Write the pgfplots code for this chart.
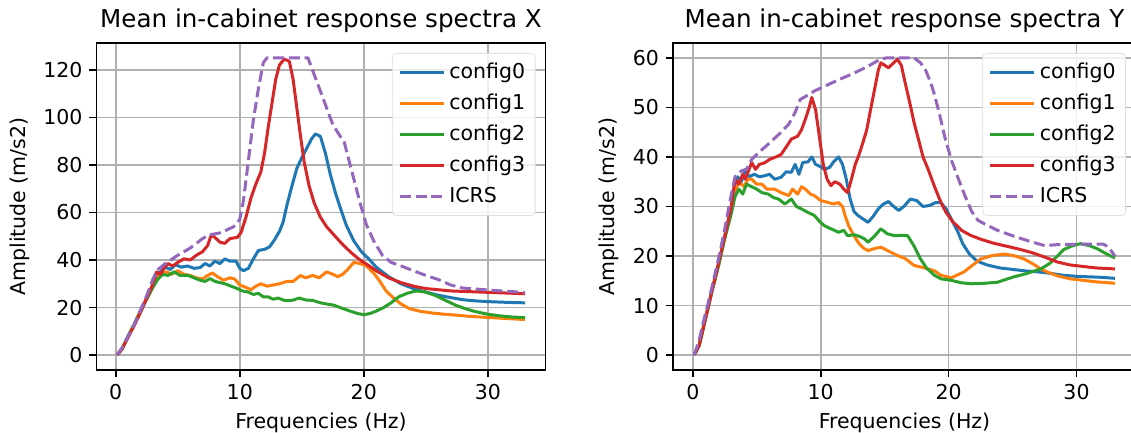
\documentclass[border=0pt]{standalone}
\usepackage{fontspec}
\setmainfont{DejaVu Sans}
\usepackage{pgfplots}
\pgfplotsset{compat=1.18}

\definecolor{c0}{HTML}{1F77B4}
\definecolor{c1}{HTML}{FF7F0E}
\definecolor{c2}{HTML}{2CA02C}
\definecolor{c3}{HTML}{D62728}
\definecolor{c4}{HTML}{9467BD}
\definecolor{gridgray}{HTML}{B0B0B0}

\pgfplotsset{
  specstyle/.style={
    scale only axis,
    height=163.5pt,
    xmin=-1.55, xmax=34.65,
    xtick={0,10,20,30},
    tick align=outside, tick pos=left,
    major tick length=3.5pt,
    tick style={black, line width=0.8pt},
    axis line style={black, line width=0.8pt},
    grid=major,
    major grid style={gridgray, line width=0.8pt},
    /pgf/number format/assume math mode=true,
    ticklabel style={font=\fontsize{10.25}{12}\selectfont},
    label style={font=\fontsize{10.25}{12}\selectfont},
    title style={font=\fontsize{12.3}{14}\selectfont, yshift=-4.5pt},
    xlabel={Frequencies (Hz)},
    ylabel={Amplitude (m/s2)},
    legend cell align=left,
    legend style={at={(1,1)}, anchor=north east, xshift=-5pt, yshift=-5pt,
      draw=gray!25, rounded corners=2pt, fill=white, fill opacity=0.8, text opacity=1,
      font=\fontsize{10.25}{12}\selectfont, row sep=2.2pt, inner sep=3pt},
    legend image code/.code={\draw[#1] (0pt,0pt) -- (22pt,0pt);},
    every axis plot/.append style={line width=1.5pt, line join=round},
  },
  icrs/.style={c4, dash pattern=on 5.5pt off 2.4pt},
}

\begin{document}
\begin{tikzpicture}
\useasboundingbox (0,0) rectangle (565.5pt,216.5pt);

\begin{axis}[specstyle, at={(48.25pt,31.5pt)}, anchor=south west, width=224.5pt,
  ymin=-6.25, ymax=131.25, ytick={0,20,40,60,80,100,120},
  title={Mean in-cabinet response spectra X}]
\addplot[c0] coordinates {
(0.1,0) (0.5,2.5) (1.0,8) (1.5,13) (2.0,18.5) (2.5,24) (3.0,29.5) (3.2,34)
(3.6,35) (4.0,37) (4.4,36) (4.8,38) (5.3,37) (5.8,37.5) (6.3,36.5) (6.8,36.8)
(7.2,38.5) (7.6,37.5) (8.0,39.5) (8.4,38.5) (8.8,40.5) (9.2,39.5) (9.7,39.5)
(10.0,36.5) (10.3,35.5) (10.7,36.5) (11.1,40.5) (11.5,44) (12.0,44.5) (12.4,45.5)
(12.8,48.5) (13.2,52) (13.5,56) (13.8,63) (14.2,71) (14.6,78.5) (15.0,83)
(15.4,87) (15.8,91) (16.1,93) (16.5,92) (16.9,85) (17.3,76) (17.7,68.5)
(18.1,62) (18.6,54.5) (19.2,48) (19.8,43.5) (20.4,40.5) (21.0,37) (22.0,33)
(23.0,30) (24.0,28) (25.0,26.5) (26.0,25.2) (27.0,24.2) (28.0,23.3) (29.0,22.8)
(30.0,22.5) (31.0,22.3) (32.0,22.1) (33.0,22)
};
\addlegendentry{config0}
\addplot[c1] coordinates {
(0.1,0) (0.5,2.5) (1.0,8) (1.5,13) (2.0,18.5) (2.5,24) (3.0,29) (3.3,33)
(3.7,34) (4.1,35) (4.5,34) (5.0,35.5) (5.5,34) (6.0,33.5) (6.5,32.5) (7.0,32)
(7.4,33.5) (7.8,34.5) (8.2,33) (8.7,31.5) (9.2,32.5) (9.6,32) (10.0,29.5)
(10.5,28.5) (10.9,27.5) (11.3,29) (11.7,30) (12.2,29) (12.7,29.5) (13.2,30)
(13.8,31) (14.3,31) (14.9,33.5) (15.3,32.5) (15.9,33.5) (16.4,32.5) (17.0,35)
(17.5,34) (17.9,33) (18.3,34) (18.7,36) (19.2,39) (19.7,38.5) (20.2,37.5)
(20.8,34.5) (21.3,31) (21.8,27) (22.4,24) (23.0,21.5) (23.7,19.5) (24.5,18.5)
(25.5,17.7) (26.5,17.2) (27.5,16.8) (28.5,16.3) (29.5,16) (30.5,15.7)
(31.5,15.4) (32.5,15.1) (33.0,15)
};
\addlegendentry{config1}
\addplot[c2] coordinates {
(0.1,0) (0.5,2.5) (1.0,8) (1.5,13) (2.0,18.5) (2.5,23.5) (3.0,28.5) (3.4,32)
(3.8,34) (4.2,33.5) (4.7,35) (5.2,33.5) (5.8,33.6) (6.3,32.5) (6.8,31.5)
(7.2,31) (7.6,32.2) (8.0,31) (8.4,30.5) (8.8,30) (9.3,29) (9.8,28) (10.2,27)
(10.7,26.5) (11.1,25.5) (11.5,26) (11.9,24.5) (12.3,24.5) (12.7,23.5) (13.1,24)
(13.6,23) (14.2,23) (14.8,24) (15.3,23.2) (15.9,23) (16.5,22) (17.0,21.5)
(17.6,21) (18.2,19.8) (18.9,18.5) (19.5,17.5) (20.0,17) (20.5,17.5) (21.0,18.5)
(21.6,20) (22.2,22) (22.8,24.5) (23.5,26) (24.2,27) (25.0,26.5) (25.8,25)
(26.6,23) (27.4,21) (28.2,19.5) (29.0,18.3) (30.0,17.2) (31.0,16.5) (32.0,16)
(33.0,15.8)
};
\addlegendentry{config2}
\addplot[c3] coordinates {
(0.1,0) (0.5,2.5) (1.0,7.5) (1.5,12.5) (2.0,18) (2.5,24) (3.0,30) (3.3,35)
(3.6,34) (3.9,36.5) (4.2,38.5) (4.6,37.5) (5.0,39) (5.5,40.5) (6.0,40) (6.5,42)
(7.0,43.5) (7.4,46) (7.7,50.5) (8.0,49.5) (8.4,47.5) (8.8,47) (9.2,49) (9.8,49.5)
(10.1,51.5) (10.5,58) (10.9,66) (11.3,72) (11.7,77) (12.0,85) (12.3,96)
(12.6,106) (12.9,116) (13.2,122) (13.6,124.5) (14.0,123.5) (14.3,116) (14.6,104)
(14.9,92) (15.2,81) (15.6,71) (16.0,64) (16.5,58) (17.0,54) (17.6,50.5)
(18.3,46.5) (19.0,43) (19.7,40) (20.3,38) (21.0,35.5) (22.0,32.5) (23.0,30.5)
(24.0,29) (25.0,28) (26.0,27.5) (27.0,27) (28.0,26.8) (29.0,26.6) (30.0,26.4)
(31.0,26.2) (32.0,26) (33.0,25.8)
};
\addlegendentry{config3}
\addplot[icrs] coordinates {
(0.1,0) (0.5,3) (1.0,8) (1.5,13) (2.0,19) (2.5,25) (3.0,32) (3.4,36) (4.0,38.5)
(5.0,42) (6.0,45) (7.0,49) (7.5,50.5) (8.5,51.5) (9.5,54) (10.0,57) (10.3,65)
(10.7,82) (11.1,99) (11.5,112) (11.9,123) (12.2,125) (15.5,125) (16.0,118)
(16.5,111) (17.0,104) (17.5,97) (18.1,92) (18.4,90) (18.8,82) (19.3,72)
(19.7,64) (20.2,55) (20.8,48) (21.5,42) (22.2,39) (23.0,37.5) (24.0,35.5)
(25.0,33.5) (26.0,31.8) (27.0,29.5) (28.0,28.2) (29.0,27.8) (30.0,27.4)
(31.0,27.0) (32.0,26.7) (33.0,26.2)
};
\addlegendentry{ICRS}
\end{axis}

\begin{axis}[specstyle, at={(336.5pt,31.5pt)}, anchor=south west, width=231.5pt,
  ymin=-3, ymax=63, ytick={0,10,20,30,40,50,60},
  title={Mean in-cabinet response spectra Y}]
\addplot[c0] coordinates {
(0.1,0) (0.5,2) (1.0,7.5) (1.5,13) (2.0,18) (2.5,24) (3.0,29.5) (3.2,33)
(3.5,36) (3.8,35) (4.1,37.5) (4.4,36) (4.8,36.5) (5.2,36) (5.6,36.2) (6.0,36.5)
(6.4,35.5) (6.9,35.9) (7.3,37) (7.7,36.9) (8.0,38.5) (8.3,36.5) (8.6,38.9)
(9.0,39) (9.3,40) (9.6,38.5) (10.0,38) (10.3,37.5) (10.7,37.9) (11.0,39)
(11.4,40) (11.7,38.5) (12.0,35.5) (12.3,31.5) (12.6,29) (12.9,28.2) (13.3,27.5)
(13.7,26.8) (14.1,28) (14.5,29.5) (14.9,30.5) (15.3,31) (15.7,30) (16.1,29.2)
(16.5,30) (17.0,31.5) (17.5,31.2) (18.0,30) (18.5,30.2) (19.0,30.8) (19.4,30.8)
(19.8,29.5) (20.3,27) (20.7,25) (21.1,22.5) (21.6,20.5) (22.2,19) (23.0,18.2)
(24.0,17.6) (25.0,17.3) (26.0,17.0) (27.0,16.8) (28.0,16.5) (29.0,16.1)
(30.0,15.9) (31.0,15.8) (32.0,15.7) (33.0,15.5)
};
\addlegendentry{config0}
\addplot[c1] coordinates {
(0.1,0) (0.5,2) (1.0,7.5) (1.5,13) (2.0,18) (2.5,24) (3.0,29.5) (3.3,33)
(3.6,35) (4.0,34) (4.3,35.5) (4.6,35.5) (5.0,34.5) (5.4,34.5) (5.8,33.5)
(6.4,33.5) (6.9,32.8) (7.5,32.2) (7.8,33.5) (8.2,32.5) (8.5,34) (8.8,33.5)
(9.2,32.5) (9.5,32.2) (10.0,31.2) (10.6,30.8) (11.0,30.5) (11.4,30.8) (11.7,30)
(11.9,28.2) (12.2,26) (12.6,24.1) (13.0,22.5) (13.4,21.5) (13.7,21.1) (14.2,21.5)
(14.7,21.8) (15.3,21) (16.0,20.1) (16.6,19.5) (17.3,18.1) (17.8,17.8) (18.4,17.4)
(18.9,17) (19.4,16.1) (19.9,15.8) (20.2,15.6) (20.7,16.2) (21.2,16.8) (21.8,18)
(22.5,19.4) (23.4,20.1) (24.4,20.4) (25.2,20) (25.9,19.4) (26.6,18.4) (27.2,17.4)
(27.7,16.8) (28.5,16) (29.5,15.4) (30.5,15.1) (31.5,14.8) (32.5,14.6) (33.0,14.5)
};
\addlegendentry{config1}
\addplot[c2] coordinates {
(0.1,0) (0.5,2) (1.0,7.5) (1.5,13) (2.0,18) (2.5,23.5) (3.0,28.5) (3.3,32)
(3.6,33.5) (3.9,32.5) (4.2,34.5) (4.6,34) (5.0,33.5) (5.4,32.8) (5.9,32.5)
(6.3,31.8) (6.7,31.5) (7.2,30.5) (7.7,31.5) (8.1,30) (8.5,29.5) (9.0,28.8)
(9.5,28.2) (9.9,27) (10.3,26.1) (10.8,25.5) (11.4,24.8) (11.8,25.2) (12.1,24.1)
(12.6,24.3) (13.0,24) (13.4,23.5) (13.7,22.8) (14.2,24) (14.7,25.5) (15.2,24.5)
(15.8,24.1) (16.3,24.2) (16.8,24.1) (17.3,22) (17.8,19.4) (18.3,17.5) (18.9,16.1)
(19.4,15.4) (20.2,15.1) (21.0,14.6) (21.8,14.4) (22.8,14.5) (23.8,14.7)
(24.5,15.3) (25.1,15.8) (26.0,16.4) (27.2,17.4) (27.9,18.5) (28.5,20) (29.0,21.3)
(29.6,22) (30.3,22.5) (31.0,22.1) (31.6,21.5) (32.3,20.5) (33.0,19.6)
};
\addlegendentry{config2}
\addplot[c3] coordinates {
(0.1,0) (0.5,2) (1.0,7.5) (1.5,13) (2.0,18.5) (2.5,24) (3.0,30) (3.3,35.5)
(3.6,34.5) (3.9,36.5) (4.1,35.5) (4.4,37.5) (4.6,38.9) (4.9,37.5) (5.2,38.5)
(5.6,38.8) (6.0,39.5) (6.5,40) (6.9,40.5) (7.3,42) (7.7,43.6) (8.2,44.2)
(8.5,45.5) (8.8,47.6) (9.1,50) (9.3,52) (9.6,49.5) (9.9,44) (10.2,38.5)
(10.5,35.5) (10.8,34.2) (11.1,35) (11.5,34.5) (11.8,33.5) (12.1,32.8) (12.4,35.5)
(12.7,38.5) (13.0,40.5) (13.3,42.9) (13.6,45.5) (13.9,49.6) (14.2,53.5)
(14.5,57.5) (14.7,59) (15.0,58.5) (15.3,58) (15.7,59) (16.0,59.7) (16.3,58.5)
(16.6,55) (17.0,50.5) (17.3,46.9) (17.7,43) (18.0,40) (18.4,37.5) (18.9,34)
(19.4,30.8) (19.8,28.8) (20.3,27) (21.0,25.2) (21.7,24.2) (22.5,23.4) (23.5,22.6)
(24.5,22) (25.5,21.4) (26.5,20.7) (27.5,19.8) (28.5,18.8) (29.5,18.2) (30.5,17.9)
(31.5,17.6) (33.0,17.4)
};
\addlegendentry{config3}
\addplot[icrs] coordinates {
(0.1,0) (0.5,3) (0.7,5.4) (1.2,10.5) (1.7,16) (2.1,20.5) (2.5,25.5) (2.9,31)
(3.3,36) (3.8,37.2) (4.2,37.5) (4.6,39.5) (5.2,41) (5.9,42.6) (6.7,44.5)
(7.5,46.6) (8.0,49) (8.4,51.6) (9.0,52.5) (9.5,53.3) (10.5,54.5) (11.5,55.7)
(12.5,56.8) (13.7,58.3) (14.7,59.8) (15.2,60) (17.3,60) (17.8,59) (18.2,57.5)
(18.6,55) (18.9,52.5) (19.3,48.5) (19.7,44) (20.2,39.5) (20.7,36) (21.3,32)
(21.8,29) (22.3,27.2) (22.8,26.5) (23.8,25.2) (25.1,24) (26.3,23) (27.5,22.1)
(28.5,22.3) (30.3,22.4) (32.1,22.4) (32.5,21.8) (33.0,20)
};
\addlegendentry{ICRS}
\end{axis}
\end{tikzpicture}
\end{document}
